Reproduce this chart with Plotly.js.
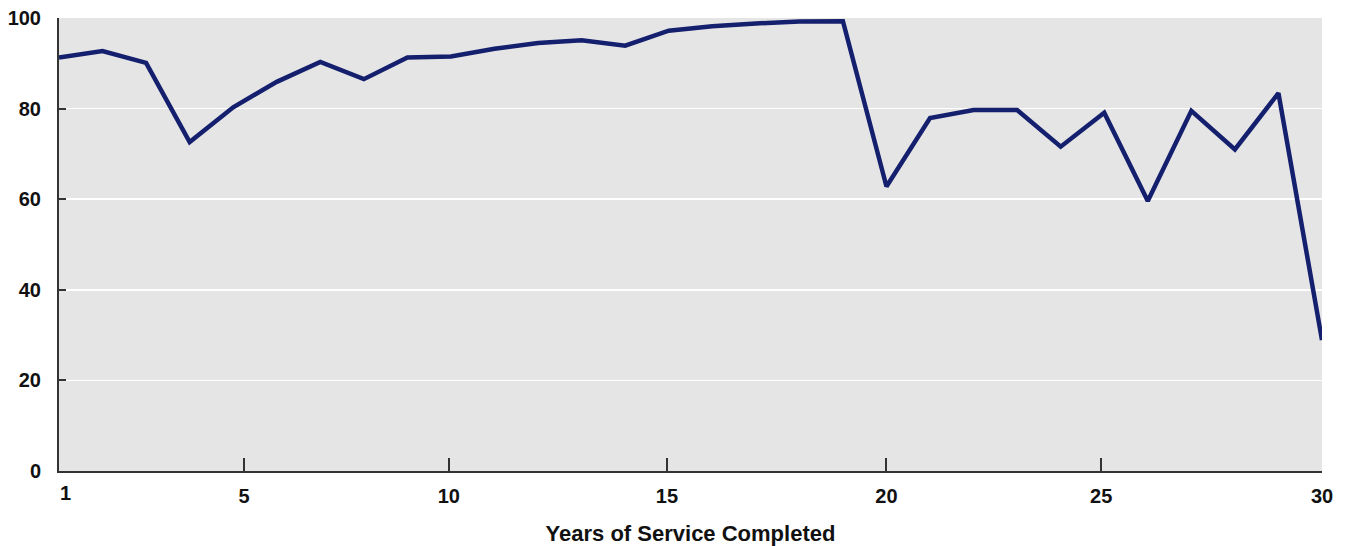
<!DOCTYPE html>
<html>
<head>
<meta charset="utf-8">
<script src="https://cdn.plot.ly/plotly-3.0.1.min.js"></script>
<style>html,body{margin:0;padding:0;background:#fff;}#chart{width:1347px;height:546px;}</style>
</head>
<body>
<div id="chart"></div>
<script>
const years = [1,2,3,4,5,6,7,8,9,10,11,12,13,14,15,16,17,18,19,20,21,22,23,24,25,26,27,28,29,30];
const values = [91.3,92.7,90.1,72.6,80.3,85.9,90.3,86.5,91.3,91.5,93.2,94.5,95.1,93.9,97.2,98.2,98.8,99.2,99.3,62.8,77.9,79.7,79.7,71.6,79.1,59.6,79.5,71.0,83.4,28.9];
const xTickVals = [5.25,9.95,14.96,20,24.93,30];
const xTickText = ['5','10','15','20','25','30'];
const yTickVals = [0,20,40,60,80,100];
const xTitle = 'Years of Service Completed';

const font = {family:'Liberation Sans, Arial, sans-serif', size:20, color:'#111', weight:700};

Plotly.newPlot('chart', [{
  x: years, y: values, type:'scatter', mode:'lines',
  line:{color:'#141f6e', width:4.5},
  hoverinfo:'skip'
}], {
  width:1347, height:546,
  margin:{l:59, r:25, t:18, b:75},
  paper_bgcolor:'#ffffff', plot_bgcolor:'#e5e5e5',
  showlegend:false,
  font: font,
  xaxis:{
    range:[1,30], tickmode:'array', tickvals:xTickVals, ticktext:xTickText,
    ticks:'inside', ticklen:13, tickwidth:2, tickcolor:'#333',
    showline:true, linecolor:'#333', linewidth:2, showgrid:false, zeroline:false,
    ticklabelstandoff:6, tickfont:font,
    title:{text:xTitle, font:{family:font.family, size:22, color:'#111', weight:700}, standoff:20},
    fixedrange:true
  },
  yaxis:{
    range:[0,100], tickmode:'array', tickvals:yTickVals,
    ticks:'inside', ticklen:7, tickwidth:2, tickcolor:'#333',
    showline:true, linecolor:'#333', linewidth:2,
    showgrid:true, gridcolor:'#ffffff', gridwidth:1.5, zeroline:false,
    ticklabelstandoff:12, tickfont:font, fixedrange:true
  },
  annotations:[{
    x:1, y:0, xref:'x', yref:'y', text:'1', showarrow:false,
    xanchor:'center', yanchor:'top', xshift:6, yshift:-9, font:font
  }]
}, {displayModeBar:false, staticPlot:true});
</script>
</body>
</html>
